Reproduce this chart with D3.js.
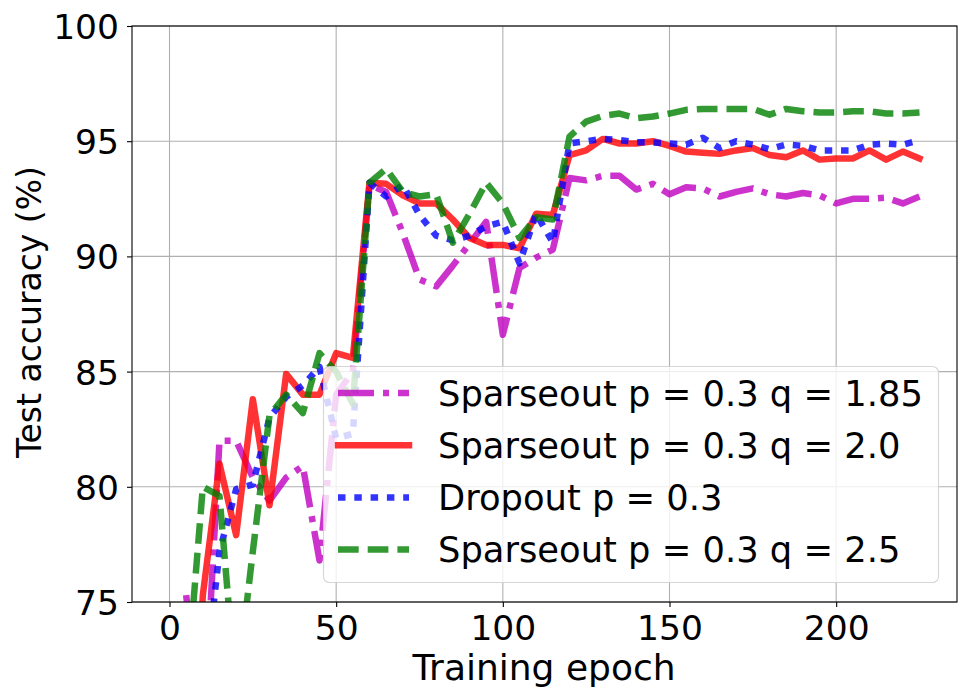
<!DOCTYPE html>
<html>
<head>
<meta charset="utf-8">
<script src="https://cdn.jsdelivr.net/npm/d3@7"></script>
<style>
  body { margin: 0; background: #fff; }
  svg { display: block; font-family: "DejaVu Sans", sans-serif; }
</style>
</head>
<body>
<div id="chart"></div>
<script>
// Test accuracy per training epoch (epochs 5..225, every 5)
const epochs = d3.range(5, 230, 5);

const sparse185 = [75.3, 68.7, 82.0, 82.0, 80.4, 79.4, 80.4, 80.9, 76.8, 84.0,
  85.0, 93.1, 92.8, 91.0, 89.0, 88.7, 89.6, 90.55, 91.5, 86.6,
  89.5, 89.95, 90.3, 93.4, 93.3, 93.5, 93.5, 92.9, 93.15, 92.7,
  93.0, 92.95, 92.6, 92.8, 92.95, 92.7, 92.6, 92.75, 92.65, 92.3,
  92.5, 92.5, 92.55, 92.3, 92.6];

const sparse20 = [62.0, 75.3, 81.0, 77.9, 83.8, 79.2, 84.9, 84.0, 84.0, 85.8,
  85.6, 93.2, 93.15, 92.65, 92.3, 92.3, 91.6, 90.8, 90.5, 90.5,
  90.35, 91.85, 91.8, 94.4, 94.6, 95.1, 94.9, 94.9, 95.0, 94.8,
  94.55, 94.5, 94.45, 94.6, 94.7, 94.4, 94.3, 94.6, 94.2, 94.25,
  94.25, 94.6, 94.2, 94.55, 94.25];

const dropout03 = [65.0, 70.7, 77.2, 79.9, 80.1, 83.0, 83.9, 84.4, 85.2, 82.1,
  82.3, 93.2, 92.6, 93.1, 91.8, 90.9, 90.7, 90.9, 91.3, 91.5,
  89.7, 91.85, 90.6, 94.9, 95.0, 95.1, 95.05, 94.95, 94.95, 94.9,
  94.85, 95.15, 94.7, 95.0, 94.85, 94.65, 94.85, 94.8, 94.6, 94.6,
  94.6, 94.85, 94.9, 94.85, 95.05];

const sparse25 = [71.1, 80.0, 79.6, 71.0, 77.2, 83.1, 84.0, 83.2, 85.8, 85.0,
  83.6, 93.2, 93.8, 92.8, 92.6, 92.7, 90.6, 91.85, 93.2, 92.3,
  90.8, 91.7, 91.6, 95.2, 95.85, 96.1, 96.2, 96.0, 96.07, 96.2,
  96.36, 96.4, 96.4, 96.4, 96.4, 96.15, 96.4, 96.3, 96.25, 96.25,
  96.3, 96.3, 96.2, 96.2, 96.25];

const seriesNames = [
  "Sparseout p = 0.3 q = 1.85",
  "Sparseout p = 0.3 q = 2.0",
  "Dropout p = 0.3",
  "Sparseout p = 0.3 q = 2.5"
];
const seriesValues = [sparse185, sparse20, dropout03, sparse25];
const seriesColors = ["#bf00bf", "#ff0000", "#0000ff", "#008000"];
const seriesDash = ["36 9 6 9", null, "7.5 8.8", "20.7 9"];

const xTicks = [0, 50, 100, 150, 200];
const yTicks = [75, 80, 85, 90, 95, 100];

const width = 964, height = 698;
const plot = { left: 132, right: 957, top: 26, bottom: 602 };
const tickFont = 34.5;

const svg = d3.select("#chart").append("svg")
  .attr("width", width)
  .attr("height", height);

svg.append("rect").attr("width", width).attr("height", height).attr("fill", "#fff");

const x = d3.scaleLinear().domain([-11.25, 236.25]).range([plot.left, plot.right]);
const y = d3.scaleLinear().domain([75, 100]).range([plot.bottom, plot.top]);

svg.append("clipPath").attr("id", "plotClip")
  .append("rect")
  .attr("x", plot.left).attr("y", plot.top)
  .attr("width", plot.right - plot.left).attr("height", plot.bottom - plot.top);

// grid
const grid = svg.append("g").attr("stroke", "#b0b0b0").attr("stroke-width", 1.1);
grid.selectAll(".gx").data(xTicks).join("line")
  .attr("x1", d => x(d)).attr("x2", d => x(d))
  .attr("y1", plot.top).attr("y2", plot.bottom);
grid.selectAll(".gy").data(yTicks).join("line")
  .attr("x1", plot.left).attr("x2", plot.right)
  .attr("y1", d => y(d)).attr("y2", d => y(d));

// lines
const line = d3.line().x((d, i) => x(epochs[i])).y(d => y(d));
const linesG = svg.append("g").attr("clip-path", "url(#plotClip)");
seriesValues.forEach((vals, k) => {
  linesG.append("path")
    .datum(vals)
    .attr("fill", "none")
    .attr("stroke", seriesColors[k])
    .attr("stroke-opacity", 0.8)
    .attr("stroke-width", 6.5)
    .attr("stroke-linejoin", "round")
    .attr("stroke-linecap", seriesDash[k] ? "butt" : "square")
    .attr("stroke-dasharray", seriesDash[k])
    .attr("d", line);
});

// axes
const xAxis = svg.append("g")
  .attr("transform", `translate(0,${plot.bottom})`)
  .call(d3.axisBottom(x).tickValues(xTicks).tickSize(5).tickPadding(5).tickSizeOuter(0));
const yAxis = svg.append("g")
  .attr("transform", `translate(${plot.left},0)`)
  .call(d3.axisLeft(y).tickValues(yTicks).tickSize(5).tickPadding(8).tickSizeOuter(0));
[xAxis, yAxis].forEach(a => {
  a.select(".domain").remove();
  a.selectAll("line").attr("stroke", "#000").attr("stroke-width", 1.1);
  a.selectAll("text")
    .attr("font-family", "DejaVu Sans")
    .attr("font-size", tickFont)
    .attr("fill", "#000");
});
xAxis.selectAll("text").attr("dy", null).attr("y", 38);
yAxis.selectAll("text").attr("dy", "0.36em");

// frame
svg.append("rect")
  .attr("x", plot.left).attr("y", plot.top)
  .attr("width", plot.right - plot.left).attr("height", plot.bottom - plot.top)
  .attr("fill", "none").attr("stroke", "#000").attr("stroke-width", 1.1);

// axis labels
svg.append("text")
  .attr("x", 544)
  .attr("y", 680)
  .attr("text-anchor", "middle")
  .attr("font-size", 36)
  .text("Training epoch");

svg.append("text")
  .attr("transform", `translate(41,${(plot.top + plot.bottom) / 2 - 2}) rotate(-90)`)
  .attr("text-anchor", "middle")
  .attr("font-size", 33)
  .text("Test accuracy (%)");

// legend
const legend = svg.append("g");
legend.append("rect")
  .attr("x", 323.5).attr("y", 366.5)
  .attr("width", 615).attr("height", 216)
  .attr("rx", 6).attr("ry", 6)
  .attr("fill", "#fff").attr("fill-opacity", 0.8)
  .attr("stroke", "#cccccc").attr("stroke-opacity", 0.8).attr("stroke-width", 1.1);

const rowY = d => 393 + d * 52.2;
seriesNames.forEach((name, k) => {
  legend.append("line")
    .attr("x1", 338).attr("x2", 409)
    .attr("y1", rowY(k)).attr("y2", rowY(k))
    .attr("stroke", seriesColors[k])
    .attr("stroke-opacity", 0.8)
    .attr("stroke-width", 6.5)
    .attr("stroke-linecap", seriesDash[k] ? "butt" : "square")
    .attr("stroke-dasharray", seriesDash[k]);
  legend.append("text")
    .attr("x", 438)
    .attr("y", rowY(k) + 12.5)
    .attr("font-size", 35.3)
    .text(name);
});
</script>
</body>
</html>
